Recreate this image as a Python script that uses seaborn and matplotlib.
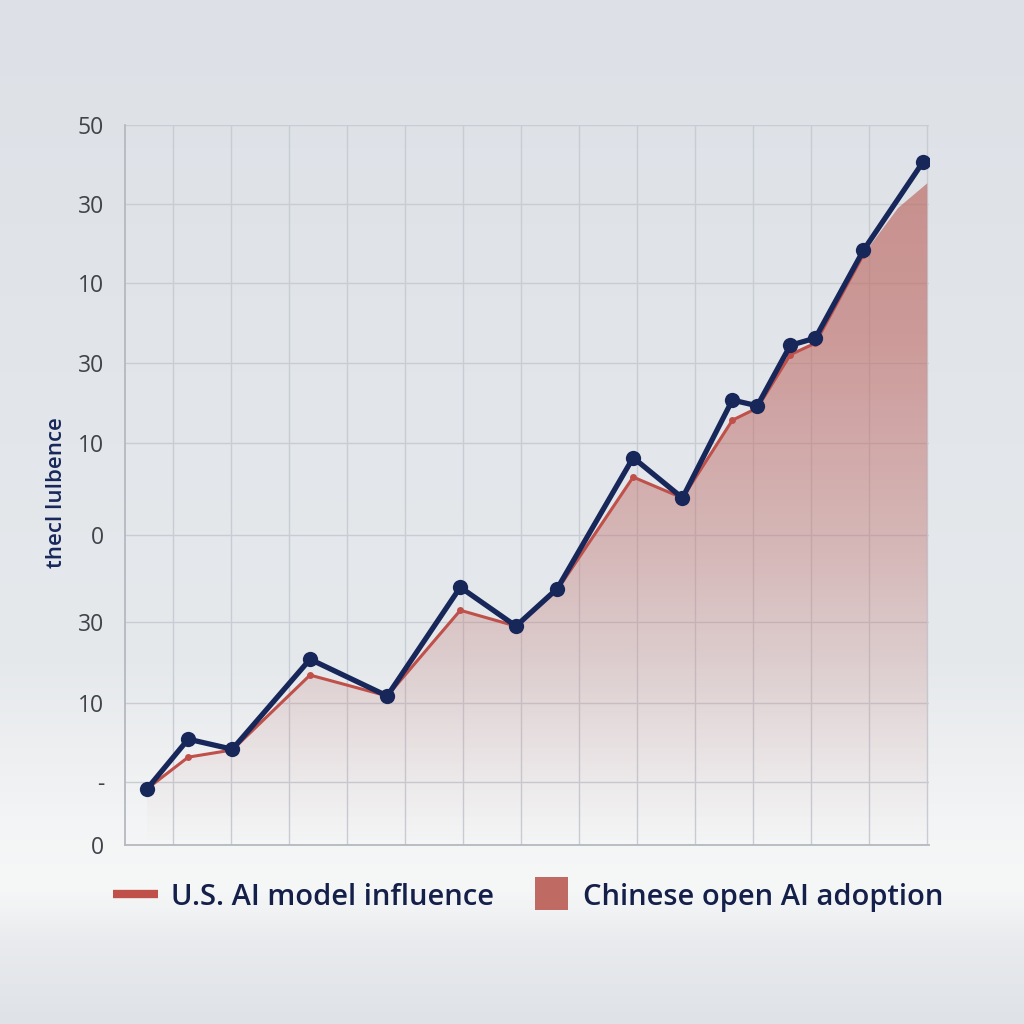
import numpy as np
import pandas as pd
import seaborn as sns
import matplotlib.pyplot as plt
from matplotlib.lines import Line2D
from matplotlib.patches import Patch, Polygon, Rectangle
from matplotlib.legend_handler import HandlerPatch
from matplotlib.colors import LinearSegmentedColormap

# --- DATA ---
x_navy = [-0.45, 0.26, 1.02, 2.36, 3.69, 4.95, 5.91, 6.62, 7.93, 8.78, 9.64, 10.07, 10.64, 11.07, 11.9, 12.93]
y_navy = [7.8, 14.7, 13.3, 25.8, 20.7, 35.8, 30.4, 35.6, 53.8, 48.2, 61.8, 61.0, 69.4, 70.4, 82.6, 94.9]

x_red = [-0.45, 0.26, 1.02, 2.36, 3.69, 4.95, 5.91, 6.62, 7.93, 8.78, 9.64, 10.07, 10.64, 11.07, 11.9, 12.5, 13.0]
y_red = [7.8, 12.2, 13.2, 23.6, 20.7, 32.6, 30.4, 35.4, 51.1, 48.2, 59.0, 60.7, 68.1, 69.7, 82.0, 88.5, 91.9]

ytick_pos = [0, 8.75, 19.7, 31, 43, 55.8, 67, 78, 89, 100]
ytick_lab = ["0", "-", "10", "30", "0", "10", "30", "10", "30", "50"]
xgrid_pos = list(range(0, 14))

y_label = "thecl lulbence"
legend_labels = ["U.S. AI model influence", "Chinese open AI adoption"]

NAVY = "#17275a"
RED = "#c0504a"
FILL = "#bf6a62"

sns.set_theme(style="whitegrid")
plt.rcParams['font.family'] = ['Open Sans', 'DejaVu Sans']

fig = plt.figure(figsize=(10.24, 10.24), dpi=100)

# background gradient
bg = fig.add_axes([0, 0, 1, 1], zorder=-10)
bg_cmap = LinearSegmentedColormap.from_list(
    "bg", [(0.0, "#dfe2e7"), (0.08, "#e9ebee"), (0.13, "#f6f7f7"), (0.20, "#f3f4f5"),
           (0.35, "#e6e9ec"), (1.0, "#dde1e7")])
bg.imshow(np.linspace(0, 1, 256).reshape(-1, 1), aspect="auto", cmap=bg_cmap,
          extent=[0, 1, 0, 1], origin="lower")
bg.axis("off")

ax = fig.add_axes([125/1024, 179/1024, 804/1024, 720/1024])
ax.set_facecolor("none")

df_navy = pd.DataFrame({"x": x_navy, "y": y_navy})
df_red = pd.DataFrame({"x": x_red, "y": y_red})

# gradient area under the red series
grad_cmap = LinearSegmentedColormap.from_list(
    "fill", [(0.0, (0.76, 0.45, 0.43, 0.0)), (0.08, (0.78, 0.5, 0.48, 0.06)),
             (0.4, (0.76, 0.45, 0.43, 0.40)), (0.7, (0.75, 0.43, 0.41, 0.62)),
             (1.0, (0.74, 0.43, 0.40, 0.74))])
img = ax.imshow(np.linspace(0, 1, 256).reshape(-1, 1), aspect="auto", cmap=grad_cmap,
                extent=[-0.83, 13.03, 0, 100], origin="lower", zorder=1)
poly = Polygon(list(zip(x_red, y_red)) + [(x_red[-1], 0), (x_red[0], 0)],
               closed=True, facecolor="none", edgecolor="none")
ax.add_patch(poly)
img.set_clip_path(poly)

sns.lineplot(data=df_red.iloc[:-2], x="x", y="y", ax=ax, color=RED, linewidth=2.2,
             marker="o", markersize=5, markeredgewidth=0, sort=False, zorder=3)
sns.lineplot(data=df_navy, x="x", y="y", ax=ax, color=NAVY, linewidth=3.8,
             marker="o", markersize=11, markeredgewidth=0, sort=False, zorder=4)

ax.set_xlim(-0.83, 13.03)
ax.set_ylim(0, 100)
ax.set_xticks(xgrid_pos)
ax.set_xticklabels([])
ax.set_yticks(ytick_pos)
ax.set_yticklabels(ytick_lab, fontsize=16.5, color="#40434a")
ax.tick_params(axis="y", pad=15, length=0)
ax.tick_params(axis="x", length=0)
ax.grid(True, color="#c8ccd3", linewidth=1)
for s in ["top", "right"]:
    ax.spines[s].set_visible(False)
for s in ["left", "bottom"]:
    ax.spines[s].set_color("#b5b9c0")
    ax.spines[s].set_linewidth(1.3)
ax.set_xlabel("")
ax.set_ylabel(y_label, fontsize=16, color=NAVY, fontweight="semibold")
ax.yaxis.set_label_coords(-0.072, 0.49)


def square_patch(legend, orig_handle, xdescent, ydescent, width, height, fontsize):
    side = height * 1.5
    return Rectangle((width - side - 2, height / 2 - side / 2), side, side,
                     facecolor=FILL, edgecolor="none")


handles = [Line2D([0], [0], color=RED, linewidth=6, solid_capstyle="butt"),
           Patch(facecolor=FILL, edgecolor="none")]
leg = fig.legend(handles, legend_labels, loc="center", bbox_to_anchor=(0.516, 0.124),
                 ncol=2, frameon=False, fontsize=21, handlelength=1.55, handleheight=0.8,
                 columnspacing=1.1, handletextpad=0.42,
                 handler_map={Patch: HandlerPatch(patch_func=square_patch)})
for t in leg.get_texts():
    t.set_color("#141f4a")
    t.set_fontweight("semibold")

fig.savefig("out.png", dpi=100)
